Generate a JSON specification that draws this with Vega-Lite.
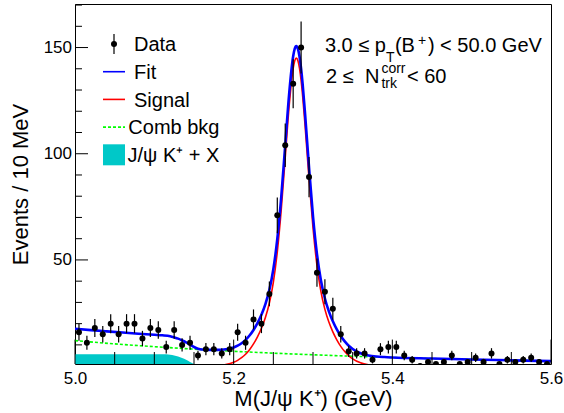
{
  "$schema": "https://vega.github.io/schema/vega-lite/v6.json",
  "width": 476,
  "height": 360,
  "autosize": {"type": "none"},
  "padding": {"left": 75, "top": 4, "right": 13, "bottom": 49},
  "background": "white",
  "config": {
    "font": "Liberation Sans",
    "view": {"stroke": "black", "strokeWidth": 1},
    "axis": {"grid": false, "domain": false, "tickColor": "black", "tickWidth": 1, "labelColor": "black", "titleColor": "black", "labelFont": "Liberation Sans", "titleFont": "Liberation Sans", "titleFontWeight": "normal", "labelFontSize": 17, "titleFontSize": 22, "zindex": 1}
  },
  "datasets": {
    "hist": [
      {"m": 5.005, "n": 16, "e": 4.0}, {"m": 5.015, "n": 11, "e": 3.32}, {"m": 5.025, "n": 18, "e": 4.24}, {"m": 5.035, "n": 15, "e": 3.87},
      {"m": 5.045, "n": 20, "e": 4.47}, {"m": 5.055, "n": 15, "e": 3.87}, {"m": 5.065, "n": 20, "e": 4.47}, {"m": 5.075, "n": 20, "e": 4.47},
      {"m": 5.085, "n": 13, "e": 3.61}, {"m": 5.095, "n": 18, "e": 4.24}, {"m": 5.105, "n": 17, "e": 4.12}, {"m": 5.115, "n": 9, "e": 3.0},
      {"m": 5.125, "n": 17, "e": 4.12}, {"m": 5.135, "n": 10, "e": 3.16}, {"m": 5.145, "n": 11, "e": 3.32}, {"m": 5.155, "n": 5, "e": 2.24},
      {"m": 5.165, "n": 8, "e": 2.83}, {"m": 5.175, "n": 8, "e": 2.83}, {"m": 5.185, "n": 6, "e": 2.45}, {"m": 5.195, "n": 8, "e": 2.83},
      {"m": 5.205, "n": 16, "e": 4.0}, {"m": 5.215, "n": 11, "e": 3.32}, {"m": 5.225, "n": 22, "e": 4.69}, {"m": 5.235, "n": 20, "e": 4.47},
      {"m": 5.245, "n": 34, "e": 5.83}, {"m": 5.255, "n": 71, "e": 8.43}, {"m": 5.265, "n": 104, "e": 10.2}, {"m": 5.275, "n": 133, "e": 11.53},
      {"m": 5.285, "n": 150, "e": 12.25}, {"m": 5.295, "n": 89, "e": 9.43}, {"m": 5.305, "n": 44, "e": 6.63}, {"m": 5.315, "n": 35, "e": 5.92},
      {"m": 5.325, "n": 27, "e": 5.2}, {"m": 5.335, "n": 15, "e": 3.87}, {"m": 5.345, "n": 7, "e": 2.65}, {"m": 5.355, "n": 6, "e": 2.45},
      {"m": 5.365, "n": 6, "e": 2.45}, {"m": 5.375, "n": 3, "e": 1.73}, {"m": 5.385, "n": 8, "e": 2.83}, {"m": 5.395, "n": 9, "e": 3.0},
      {"m": 5.405, "n": 9, "e": 3.0}, {"m": 5.415, "n": 5, "e": 2.24}, {"m": 5.425, "n": 3, "e": 1.73}, {"m": 5.435, "n": 0, "e": 0},
      {"m": 5.445, "n": 2, "e": 1.41}, {"m": 5.455, "n": 1, "e": 1.0}, {"m": 5.465, "n": 2, "e": 1.41}, {"m": 5.475, "n": 5, "e": 2.24},
      {"m": 5.485, "n": 1, "e": 1.0}, {"m": 5.495, "n": 2, "e": 1.41}, {"m": 5.505, "n": 4, "e": 2.0}, {"m": 5.515, "n": 2, "e": 1.41},
      {"m": 5.525, "n": 6, "e": 2.45}, {"m": 5.535, "n": 1, "e": 1.0}, {"m": 5.545, "n": 3, "e": 1.73}, {"m": 5.555, "n": 2, "e": 1.41},
      {"m": 5.565, "n": 3, "e": 1.73}, {"m": 5.575, "n": 4, "e": 2.0}, {"m": 5.585, "n": 2, "e": 1.41}, {"m": 5.595, "n": 1, "e": 1.0}
    ],
    "jpsi": [
      {"m": 5.0, "v": 5.6}, {"m": 5.05, "v": 5.6}, {"m": 5.11, "v": 5.6}, {"m": 5.12, "v": 5.4}, {"m": 5.125, "v": 5.0},
      {"m": 5.13, "v": 4.5}, {"m": 5.135, "v": 3.8}, {"m": 5.14, "v": 3.0}, {"m": 5.145, "v": 2.0}, {"m": 5.15, "v": 1.0},
      {"m": 5.155, "v": 0.3}, {"m": 5.16, "v": 0}
    ],
    "ticks": [
      {"a": "x", "k": "major", "t": 5.0}, {"a": "x", "k": "minor", "t": 5.05}, {"a": "x", "k": "minor", "t": 5.1}, {"a": "x", "k": "minor", "t": 5.15},
      {"a": "x", "k": "major", "t": 5.2}, {"a": "x", "k": "minor", "t": 5.25}, {"a": "x", "k": "minor", "t": 5.3}, {"a": "x", "k": "minor", "t": 5.35},
      {"a": "x", "k": "major", "t": 5.4}, {"a": "x", "k": "minor", "t": 5.45}, {"a": "x", "k": "minor", "t": 5.5}, {"a": "x", "k": "minor", "t": 5.55},
      {"a": "x", "k": "major", "t": 5.6},
      {"a": "y", "k": "minor", "t": 10}, {"a": "y", "k": "minor", "t": 20}, {"a": "y", "k": "minor", "t": 30}, {"a": "y", "k": "minor", "t": 40},
      {"a": "y", "k": "major", "t": 50}, {"a": "y", "k": "minor", "t": 60}, {"a": "y", "k": "minor", "t": 70}, {"a": "y", "k": "minor", "t": 80},
      {"a": "y", "k": "minor", "t": 90}, {"a": "y", "k": "major", "t": 100}, {"a": "y", "k": "minor", "t": 110}, {"a": "y", "k": "minor", "t": 120},
      {"a": "y", "k": "minor", "t": 130}, {"a": "y", "k": "minor", "t": 140}, {"a": "y", "k": "major", "t": 150}, {"a": "y", "k": "minor", "t": 160},
      {"a": "y", "k": "minor", "t": 170}
    ],
    "curves": [
      {"m": 5.0, "v": 12.0, "c": "Comb bkg"}, {"m": 5.05, "v": 10.48, "c": "Comb bkg"}, {"m": 5.1, "v": 9.16, "c": "Comb bkg"},
      {"m": 5.15, "v": 8.0, "c": "Comb bkg"}, {"m": 5.2, "v": 6.99, "c": "Comb bkg"}, {"m": 5.25, "v": 6.11, "c": "Comb bkg"},
      {"m": 5.3, "v": 5.34, "c": "Comb bkg"}, {"m": 5.35, "v": 4.66, "c": "Comb bkg"}, {"m": 5.4, "v": 4.07, "c": "Comb bkg"},
      {"m": 5.45, "v": 3.56, "c": "Comb bkg"}, {"m": 5.5, "v": 3.11, "c": "Comb bkg"}, {"m": 5.55, "v": 2.72, "c": "Comb bkg"},
      {"m": 5.6, "v": 2.37, "c": "Comb bkg"},
      {"m": 5.16, "v": 0.03, "c": "Signal"}, {"m": 5.17, "v": 0.09, "c": "Signal"}, {"m": 5.18, "v": 0.28, "c": "Signal"},
      {"m": 5.19, "v": 0.75, "c": "Signal"}, {"m": 5.2, "v": 1.81, "c": "Signal"}, {"m": 5.205, "v": 2.72, "c": "Signal"},
      {"m": 5.21, "v": 3.96, "c": "Signal"}, {"m": 5.215, "v": 5.62, "c": "Signal"}, {"m": 5.22, "v": 7.76, "c": "Signal"},
      {"m": 5.225, "v": 10.47, "c": "Signal"}, {"m": 5.23, "v": 13.8, "c": "Signal"}, {"m": 5.235, "v": 17.85, "c": "Signal"},
      {"m": 5.24, "v": 22.92, "c": "Signal"}, {"m": 5.245, "v": 29.71, "c": "Signal"}, {"m": 5.25, "v": 39.47, "c": "Signal"},
      {"m": 5.255, "v": 53.82, "c": "Signal"}, {"m": 5.26, "v": 73.79, "c": "Signal"}, {"m": 5.265, "v": 98.24, "c": "Signal"},
      {"m": 5.27, "v": 122.69, "c": "Signal"}, {"m": 5.275, "v": 140.19, "c": "Signal"}, {"m": 5.277, "v": 143.78, "c": "Signal"},
      {"m": 5.279, "v": 145.0, "c": "Signal"}, {"m": 5.281, "v": 143.78, "c": "Signal"}, {"m": 5.283, "v": 140.19, "c": "Signal"},
      {"m": 5.285, "v": 134.47, "c": "Signal"}, {"m": 5.287, "v": 126.97, "c": "Signal"}, {"m": 5.29, "v": 113.32, "c": "Signal"},
      {"m": 5.295, "v": 88.14, "c": "Signal"}, {"m": 5.3, "v": 65.14, "c": "Signal"}, {"m": 5.305, "v": 47.42, "c": "Signal"},
      {"m": 5.31, "v": 35.11, "c": "Signal"}, {"m": 5.315, "v": 26.73, "c": "Signal"}, {"m": 5.32, "v": 20.74, "c": "Signal"},
      {"m": 5.325, "v": 16.12, "c": "Signal"}, {"m": 5.33, "v": 12.39, "c": "Signal"}, {"m": 5.335, "v": 9.31, "c": "Signal"},
      {"m": 5.34, "v": 6.84, "c": "Signal"}, {"m": 5.345, "v": 4.9, "c": "Signal"}, {"m": 5.35, "v": 3.41, "c": "Signal"},
      {"m": 5.36, "v": 1.53, "c": "Signal"}, {"m": 5.37, "v": 0.62, "c": "Signal"}, {"m": 5.38, "v": 0.23, "c": "Signal"},
      {"m": 5.39, "v": 0.07, "c": "Signal"},
      {"m": 5.0, "v": 17.6, "c": "Fit"}, {"m": 5.02, "v": 16.97, "c": "Fit"}, {"m": 5.04, "v": 16.37, "c": "Fit"},
      {"m": 5.06, "v": 15.8, "c": "Fit"}, {"m": 5.08, "v": 15.27, "c": "Fit"}, {"m": 5.1, "v": 14.76, "c": "Fit"},
      {"m": 5.11, "v": 14.52, "c": "Fit"}, {"m": 5.12, "v": 14.08, "c": "Fit"}, {"m": 5.125, "v": 13.56, "c": "Fit"},
      {"m": 5.13, "v": 12.95, "c": "Fit"}, {"m": 5.135, "v": 12.13, "c": "Fit"}, {"m": 5.14, "v": 11.22, "c": "Fit"},
      {"m": 5.145, "v": 10.11, "c": "Fit"}, {"m": 5.15, "v": 9.0, "c": "Fit"}, {"m": 5.155, "v": 8.2, "c": "Fit"},
      {"m": 5.16, "v": 7.82, "c": "Fit"}, {"m": 5.17, "v": 7.67, "c": "Fit"}, {"m": 5.18, "v": 7.66, "c": "Fit"},
      {"m": 5.19, "v": 7.93, "c": "Fit"}, {"m": 5.2, "v": 8.8, "c": "Fit"}, {"m": 5.205, "v": 9.62, "c": "Fit"},
      {"m": 5.21, "v": 10.77, "c": "Fit"}, {"m": 5.215, "v": 12.34, "c": "Fit"}, {"m": 5.22, "v": 14.39, "c": "Fit"},
      {"m": 5.225, "v": 17.01, "c": "Fit"}, {"m": 5.23, "v": 20.25, "c": "Fit"}, {"m": 5.235, "v": 24.21, "c": "Fit"},
      {"m": 5.24, "v": 29.2, "c": "Fit"}, {"m": 5.245, "v": 35.9, "c": "Fit"}, {"m": 5.25, "v": 45.58, "c": "Fit"},
      {"m": 5.255, "v": 59.85, "c": "Fit"}, {"m": 5.26, "v": 79.74, "c": "Fit"}, {"m": 5.265, "v": 104.11, "c": "Fit"},
      {"m": 5.27, "v": 128.48, "c": "Fit"}, {"m": 5.275, "v": 145.9, "c": "Fit"}, {"m": 5.277, "v": 149.46, "c": "Fit"},
      {"m": 5.279, "v": 150.65, "c": "Fit"}, {"m": 5.281, "v": 149.4, "c": "Fit"}, {"m": 5.283, "v": 145.78, "c": "Fit"},
      {"m": 5.285, "v": 140.04, "c": "Fit"}, {"m": 5.287, "v": 132.51, "c": "Fit"}, {"m": 5.29, "v": 118.81, "c": "Fit"},
      {"m": 5.295, "v": 93.56, "c": "Fit"}, {"m": 5.3, "v": 70.48, "c": "Fit"}, {"m": 5.305, "v": 52.69, "c": "Fit"},
      {"m": 5.31, "v": 40.31, "c": "Fit"}, {"m": 5.315, "v": 31.86, "c": "Fit"}, {"m": 5.32, "v": 25.8, "c": "Fit"},
      {"m": 5.325, "v": 21.11, "c": "Fit"}, {"m": 5.33, "v": 17.31, "c": "Fit"}, {"m": 5.335, "v": 14.16, "c": "Fit"},
      {"m": 5.34, "v": 11.63, "c": "Fit"}, {"m": 5.345, "v": 9.62, "c": "Fit"}, {"m": 5.35, "v": 8.07, "c": "Fit"},
      {"m": 5.36, "v": 6.07, "c": "Fit"}, {"m": 5.37, "v": 5.04, "c": "Fit"}, {"m": 5.38, "v": 4.53, "c": "Fit"},
      {"m": 5.39, "v": 4.26, "c": "Fit"}, {"m": 5.4, "v": 4.07, "c": "Fit"}, {"m": 5.45, "v": 3.56, "c": "Fit"},
      {"m": 5.5, "v": 3.11, "c": "Fit"}, {"m": 5.55, "v": 2.72, "c": "Fit"}, {"m": 5.6, "v": 2.37, "c": "Fit"}
    ]
  },
  "layer": [
    {
      "data": {"name": "jpsi"},
      "mark": {"type": "area", "clip": true, "interpolate": "monotone", "opacity": 1, "color": "#00c8c8"},
      "encoding": {
        "x": {"field": "m", "type": "quantitative", "scale": {"domain": [5.0, 5.6], "nice": false, "zero": false}, "axis": null},
        "y": {"field": "v", "type": "quantitative", "scale": {"domain": [1, 170.5], "nice": false, "zero": false}, "axis": null}
      }
    },
    {
      "data": {"name": "curves"},
      "transform": [{"filter": "datum.c === 'Comb bkg'"}],
      "mark": {"type": "line", "clip": true, "strokeWidth": 1.6, "strokeDash": [3, 2], "interpolate": "monotone", "color": "#00ff00"},
      "encoding": {
        "x": {"field": "m", "type": "quantitative", "scale": {"domain": [5.0, 5.6], "nice": false, "zero": false}, "axis": null},
        "y": {"field": "v", "type": "quantitative", "scale": {"domain": [1, 170.5], "nice": false, "zero": false}, "axis": null}
      }
    },
    {
      "data": {"name": "curves"},
      "transform": [{"filter": "datum.c === 'Signal'"}],
      "mark": {"type": "line", "clip": true, "strokeWidth": 1.6, "interpolate": "monotone", "color": "#ff0000"},
      "encoding": {
        "x": {"field": "m", "type": "quantitative", "scale": {"domain": [5.0, 5.6], "nice": false, "zero": false}, "axis": null},
        "y": {"field": "v", "type": "quantitative", "scale": {"domain": [1, 170.5], "nice": false, "zero": false}, "axis": null}
      }
    },
    {
      "data": {"name": "curves"},
      "transform": [{"filter": "datum.c === 'Fit'"}],
      "mark": {"type": "line", "clip": true, "strokeWidth": 2.6, "interpolate": "monotone", "color": "#0000ff"},
      "encoding": {
        "x": {"field": "m", "type": "quantitative", "scale": {"domain": [5.0, 5.6], "nice": false, "zero": false}, "axis": null},
        "y": {"field": "v", "type": "quantitative", "scale": {"domain": [1, 170.5], "nice": false, "zero": false}, "axis": null}
      }
    },
    {
      "data": {"name": "hist"},
      "mark": {"type": "errorbar", "color": "black", "thickness": 1.2, "clip": true},
      "encoding": {
        "x": {"field": "m", "type": "quantitative", "scale": {"domain": [5.0, 5.6], "nice": false, "zero": false}, "axis": null},
        "y": {"field": "n", "type": "quantitative", "scale": {"domain": [1, 170.5], "nice": false, "zero": false}, "axis": null},
        "yError": {"field": "e"}
      }
    },
    {
      "data": {"name": "hist"},
      "mark": {"type": "circle", "clip": true, "size": 36, "opacity": 1, "color": "black"},
      "encoding": {
        "x": {"field": "m", "type": "quantitative", "scale": {"domain": [5.0, 5.6], "nice": false, "zero": false},
              "axis": {"values": [5.0, 5.2, 5.4, 5.6], "ticks": false, "labelPadding": 6, "format": ".1f",
                       "labelOverlap": false, "labelFlush": false, "labelBound": false,
                       "title": "M(J/ψ K⁺) (GeV)", "titlePadding": 2, "orient": "bottom"}},
        "y": {"field": "n", "type": "quantitative", "scale": {"domain": [1, 170.5], "nice": false, "zero": false},
              "axis": {"values": [50, 100, 150], "ticks": false, "labelPadding": 3.5, "labelOverlap": false, "labelFlush": false,
                       "title": "Events / 10 MeV", "titlePadding": 11, "orient": "left"}}
      }
    },
    {
      "data": {"name": "ticks"},
      "transform": [{"filter": "datum.a === 'x' && datum.k === 'minor'"}],
      "mark": {"type": "rule", "color": "black", "strokeWidth": 1},
      "encoding": {
        "x": {"field": "t", "type": "quantitative", "scale": {"domain": [5.0, 5.6], "nice": false, "zero": false}, "axis": null},
        "y": {"datum": 1, "type": "quantitative", "scale": {"domain": [1, 170.5], "nice": false, "zero": false}, "axis": null},
        "y2": {"datum": 6.65}
      }
    },
    {
      "data": {"name": "ticks"},
      "transform": [{"filter": "datum.a === 'x' && datum.k === 'major'"}],
      "mark": {"type": "rule", "color": "black", "strokeWidth": 1},
      "encoding": {
        "x": {"field": "t", "type": "quantitative", "scale": {"domain": [5.0, 5.6], "nice": false, "zero": false}, "axis": null},
        "y": {"datum": 1, "type": "quantitative", "scale": {"domain": [1, 170.5], "nice": false, "zero": false}, "axis": null},
        "y2": {"datum": 12.5}
      }
    },
    {
      "data": {"name": "ticks"},
      "transform": [{"filter": "datum.a === 'y' && datum.k === 'minor'"}],
      "mark": {"type": "rule", "color": "black", "strokeWidth": 1},
      "encoding": {
        "y": {"field": "t", "type": "quantitative", "scale": {"domain": [1, 170.5], "nice": false, "zero": false}, "axis": null},
        "x": {"datum": 5.0, "type": "quantitative", "scale": {"domain": [5.0, 5.6], "nice": false, "zero": false}, "axis": null},
        "x2": {"datum": 5.00882}
      }
    },
    {
      "data": {"name": "ticks"},
      "transform": [{"filter": "datum.a === 'y' && datum.k === 'major'"}],
      "mark": {"type": "rule", "color": "black", "strokeWidth": 1},
      "encoding": {
        "y": {"field": "t", "type": "quantitative", "scale": {"domain": [1, 170.5], "nice": false, "zero": false}, "axis": null},
        "x": {"datum": 5.0, "type": "quantitative", "scale": {"domain": [5.0, 5.6], "nice": false, "zero": false}, "axis": null},
        "x2": {"datum": 5.01639}
      }
    },
    {
      "data": {"values": [{}]},
      "mark": {"type": "rule", "color": "black", "strokeWidth": 1.2},
      "encoding": {
        "x": {"datum": 5.04916, "type": "quantitative", "scale": {"domain": [5.0, 5.6], "nice": false, "zero": false}, "axis": null},
        "y": {"datum": 156.38, "type": "quantitative", "scale": {"domain": [1, 170.5], "nice": false, "zero": false}, "axis": null},
        "y2": {"datum": 146.96}
      }
    },
    {
      "data": {"values": [{}]},
      "mark": {"type": "circle", "color": "black", "size": 36, "opacity": 1},
      "encoding": {
        "x": {"datum": 5.04916, "type": "quantitative", "scale": {"domain": [5.0, 5.6], "nice": false, "zero": false}, "axis": null},
        "y": {"datum": 151.67, "type": "quantitative", "scale": {"domain": [1, 170.5], "nice": false, "zero": false}, "axis": null}
      }
    },
    {
      "data": {"values": [{}]},
      "mark": {"type": "rule", "color": "#0000ff", "strokeWidth": 1.6},
      "encoding": {
        "x": {"datum": 5.03529, "type": "quantitative", "scale": {"domain": [5.0, 5.6], "nice": false, "zero": false}, "axis": null},
        "x2": {"datum": 5.06303},
        "y": {"datum": 138.62, "type": "quantitative", "scale": {"domain": [1, 170.5], "nice": false, "zero": false}, "axis": null}
      }
    },
    {
      "data": {"values": [{}]},
      "mark": {"type": "rule", "color": "#ff0000", "strokeWidth": 1.6},
      "encoding": {
        "x": {"datum": 5.03529, "type": "quantitative", "scale": {"domain": [5.0, 5.6], "nice": false, "zero": false}, "axis": null},
        "x2": {"datum": 5.06303},
        "y": {"datum": 125.58, "type": "quantitative", "scale": {"domain": [1, 170.5], "nice": false, "zero": false}, "axis": null}
      }
    },
    {
      "data": {"values": [{}]},
      "mark": {"type": "rule", "color": "#00ff00", "strokeWidth": 1.6, "strokeDash": [3, 2]},
      "encoding": {
        "x": {"datum": 5.03529, "type": "quantitative", "scale": {"domain": [5.0, 5.6], "nice": false, "zero": false}, "axis": null},
        "x2": {"datum": 5.06303},
        "y": {"datum": 112.54, "type": "quantitative", "scale": {"domain": [1, 170.5], "nice": false, "zero": false}, "axis": null}
      }
    },
    {
      "data": {"values": [{}]},
      "mark": {"type": "rect", "color": "#00c8c8", "opacity": 1},
      "encoding": {
        "x": {"datum": 5.03529, "type": "quantitative", "scale": {"domain": [5.0, 5.6], "nice": false, "zero": false}, "axis": null},
        "x2": {"datum": 5.06303},
        "y": {"datum": 104.44, "type": "quantitative", "scale": {"domain": [1, 170.5], "nice": false, "zero": false}, "axis": null},
        "y2": {"datum": 94.55}
      }
    },
    {
      "data": {"values": [{}]},
      "mark": {"type": "text", "text": "Data", "fontSize": 20, "align": "left", "baseline": "alphabetic", "dy": 7.3, "color": "black"},
      "encoding": {
        "x": {"datum": 5.07437, "type": "quantitative", "scale": {"domain": [5.0, 5.6], "nice": false, "zero": false}, "axis": null},
        "y": {"datum": 151.67, "type": "quantitative", "scale": {"domain": [1, 170.5], "nice": false, "zero": false}, "axis": null}
      }
    },
    {
      "data": {"values": [{}]},
      "mark": {"type": "text", "text": "Fit", "fontSize": 20, "align": "left", "baseline": "alphabetic", "dy": 7.3, "color": "black"},
      "encoding": {
        "x": {"datum": 5.07437, "type": "quantitative", "scale": {"domain": [5.0, 5.6], "nice": false, "zero": false}, "axis": null},
        "y": {"datum": 138.62, "type": "quantitative", "scale": {"domain": [1, 170.5], "nice": false, "zero": false}, "axis": null}
      }
    },
    {
      "data": {"values": [{}]},
      "mark": {"type": "text", "text": "Signal", "fontSize": 20, "align": "left", "baseline": "alphabetic", "dy": 7.3, "color": "black"},
      "encoding": {
        "x": {"datum": 5.07437, "type": "quantitative", "scale": {"domain": [5.0, 5.6], "nice": false, "zero": false}, "axis": null},
        "y": {"datum": 125.58, "type": "quantitative", "scale": {"domain": [1, 170.5], "nice": false, "zero": false}, "axis": null}
      }
    },
    {
      "data": {"values": [{}]},
      "mark": {"type": "text", "text": "Comb bkg", "fontSize": 20, "align": "left", "baseline": "alphabetic", "dy": 7.3, "color": "black"},
      "encoding": {
        "x": {"datum": 5.0672, "type": "quantitative", "scale": {"domain": [5.0, 5.6], "nice": false, "zero": false}, "axis": null},
        "y": {"datum": 112.54, "type": "quantitative", "scale": {"domain": [1, 170.5], "nice": false, "zero": false}, "axis": null}
      }
    },
    {
      "data": {"values": [{}]},
      "mark": {"type": "text", "text": "J/ψ K⁺ + X", "fontSize": 20, "align": "left", "baseline": "alphabetic", "dy": 7.3, "color": "black"},
      "encoding": {
        "x": {"datum": 5.0662, "type": "quantitative", "scale": {"domain": [5.0, 5.6], "nice": false, "zero": false}, "axis": null},
        "y": {"datum": 99.5, "type": "quantitative", "scale": {"domain": [1, 170.5], "nice": false, "zero": false}, "axis": null}
      }
    },
    {
      "data": {"values": [{}]},
      "mark": {"type": "text", "text": "3.0 ≤ p", "fontSize": 20, "align": "left", "baseline": "alphabetic", "dx": 0, "dy": 0, "color": "black"},
      "encoding": {
        "x": {"datum": 5.315, "type": "quantitative", "scale": {"domain": [5.0, 5.6], "nice": false, "zero": false}, "axis": null},
        "y": {"datum": 148.04, "type": "quantitative", "scale": {"domain": [1, 170.5], "nice": false, "zero": false}, "axis": null}
      }
    },
    {
      "data": {"values": [{}]},
      "mark": {"type": "text", "text": "T", "fontSize": 14, "align": "left", "baseline": "alphabetic", "dx": 61, "dy": 10.6, "color": "black"},
      "encoding": {
        "x": {"datum": 5.315, "type": "quantitative", "scale": {"domain": [5.0, 5.6], "nice": false, "zero": false}, "axis": null},
        "y": {"datum": 148.04, "type": "quantitative", "scale": {"domain": [1, 170.5], "nice": false, "zero": false}, "axis": null}
      }
    },
    {
      "data": {"values": [{}]},
      "mark": {"type": "text", "text": "(B", "fontSize": 20, "align": "left", "baseline": "alphabetic", "dx": 70, "dy": 0, "color": "black"},
      "encoding": {
        "x": {"datum": 5.315, "type": "quantitative", "scale": {"domain": [5.0, 5.6], "nice": false, "zero": false}, "axis": null},
        "y": {"datum": 148.04, "type": "quantitative", "scale": {"domain": [1, 170.5], "nice": false, "zero": false}, "axis": null}
      }
    },
    {
      "data": {"values": [{}]},
      "mark": {"type": "text", "text": "+", "fontSize": 14, "align": "left", "baseline": "alphabetic", "dx": 93, "dy": -6.7, "color": "black"},
      "encoding": {
        "x": {"datum": 5.315, "type": "quantitative", "scale": {"domain": [5.0, 5.6], "nice": false, "zero": false}, "axis": null},
        "y": {"datum": 148.04, "type": "quantitative", "scale": {"domain": [1, 170.5], "nice": false, "zero": false}, "axis": null}
      }
    },
    {
      "data": {"values": [{}]},
      "mark": {"type": "text", "text": ") < 50.0 GeV", "fontSize": 20, "align": "left", "baseline": "alphabetic", "dx": 103, "dy": 0, "color": "black"},
      "encoding": {
        "x": {"datum": 5.315, "type": "quantitative", "scale": {"domain": [5.0, 5.6], "nice": false, "zero": false}, "axis": null},
        "y": {"datum": 148.04, "type": "quantitative", "scale": {"domain": [1, 170.5], "nice": false, "zero": false}, "axis": null}
      }
    },
    {
      "data": {"values": [{}]},
      "mark": {"type": "text", "text": "2 ≤", "fontSize": 20, "align": "left", "baseline": "alphabetic", "dx": 1, "dy": 0, "color": "black"},
      "encoding": {
        "x": {"datum": 5.315, "type": "quantitative", "scale": {"domain": [5.0, 5.6], "nice": false, "zero": false}, "axis": null},
        "y": {"datum": 133.45, "type": "quantitative", "scale": {"domain": [1, 170.5], "nice": false, "zero": false}, "axis": null}
      }
    },
    {
      "data": {"values": [{}]},
      "mark": {"type": "text", "text": "N", "fontSize": 20, "align": "left", "baseline": "alphabetic", "dx": 40, "dy": 0, "color": "black"},
      "encoding": {
        "x": {"datum": 5.315, "type": "quantitative", "scale": {"domain": [5.0, 5.6], "nice": false, "zero": false}, "axis": null},
        "y": {"datum": 133.45, "type": "quantitative", "scale": {"domain": [1, 170.5], "nice": false, "zero": false}, "axis": null}
      }
    },
    {
      "data": {"values": [{}]},
      "mark": {"type": "text", "text": "corr", "fontSize": 14, "align": "left", "baseline": "alphabetic", "dx": 56.5, "dy": -10, "color": "black"},
      "encoding": {
        "x": {"datum": 5.315, "type": "quantitative", "scale": {"domain": [5.0, 5.6], "nice": false, "zero": false}, "axis": null},
        "y": {"datum": 133.45, "type": "quantitative", "scale": {"domain": [1, 170.5], "nice": false, "zero": false}, "axis": null}
      }
    },
    {
      "data": {"values": [{}]},
      "mark": {"type": "text", "text": "trk", "fontSize": 14, "align": "left", "baseline": "alphabetic", "dx": 56.5, "dy": 5.6, "color": "black"},
      "encoding": {
        "x": {"datum": 5.315, "type": "quantitative", "scale": {"domain": [5.0, 5.6], "nice": false, "zero": false}, "axis": null},
        "y": {"datum": 133.45, "type": "quantitative", "scale": {"domain": [1, 170.5], "nice": false, "zero": false}, "axis": null}
      }
    },
    {
      "data": {"values": [{}]},
      "mark": {"type": "text", "text": "< 60", "fontSize": 20, "align": "left", "baseline": "alphabetic", "dx": 82, "dy": 0, "color": "black"},
      "encoding": {
        "x": {"datum": 5.315, "type": "quantitative", "scale": {"domain": [5.0, 5.6], "nice": false, "zero": false}, "axis": null},
        "y": {"datum": 133.45, "type": "quantitative", "scale": {"domain": [1, 170.5], "nice": false, "zero": false}, "axis": null}
      }
    }
  ],
  "resolve": {"axis": {"x": "independent", "y": "independent"}}
}
